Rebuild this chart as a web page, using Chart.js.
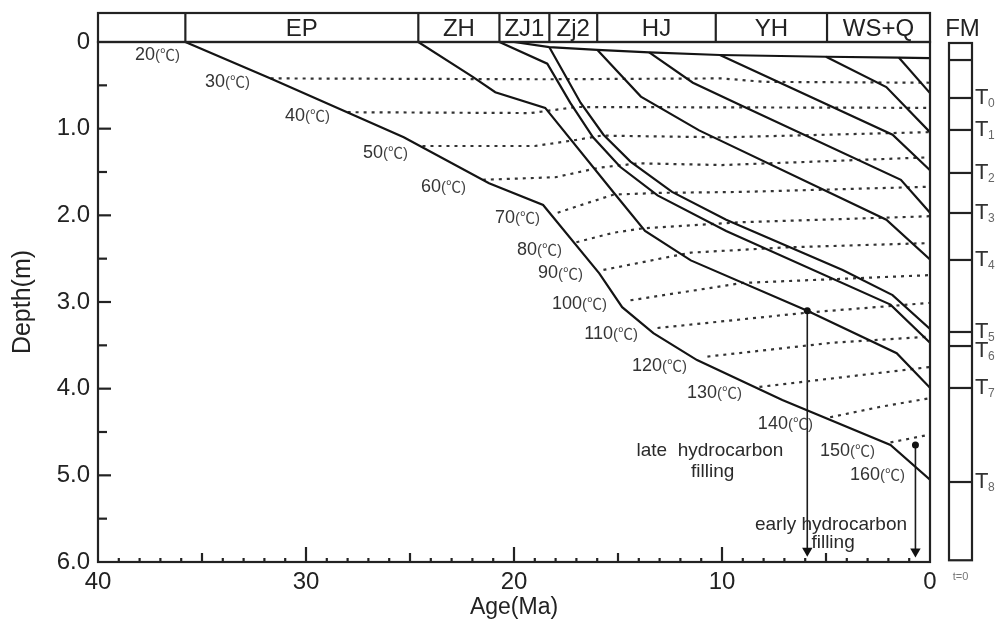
<!DOCTYPE html>
<html><head><meta charset="utf-8">
<script src="https://cdn.jsdelivr.net/npm/chart.js@4.4.0/dist/chart.umd.min.js"></script>
<style>html,body{margin:0;padding:0;background:#fff;overflow:hidden}canvas{display:block}</style>
</head><body>
<canvas id="c" width="997" height="631"></canvas>
<script>
// ---- top band: formations (ages in Ma) ----
const formationNames  = ['', 'EP', 'ZH', 'ZJ1', 'Zj2', 'HJ', 'YH', 'WS+Q'];
const formationBounds = [40, 35.8, 24.6, 20.7, 18.3, 16.0, 10.3, 4.95, 0];
// ---- FM column markers (depth, km) ----
const markerNames  = ['T0','T1','T2','T3','T4','T5','T6','T7','T8'];
const markerDepths = [0.646, 1.015, 1.511, 1.973, 2.515, 3.346, 3.508, 3.992, 5.077];
const fmTopLine = 0.208;
// ---- burial curves [age Ma, depth km] ----
const burialEP  = [[35.8,0],[31.7,0.42],[25.3,1.10],[21.2,1.63],[18.6,1.88],[15.9,2.67],[14.8,3.06],[13.3,3.36],[11.2,3.67],[7.1,4.13],[1.9,4.65],[0,5.05]];
const burialZH  = [[24.6,0],[22.0,0.40],[20.9,0.58],[18.5,0.76],[15.2,1.74],[13.7,2.18],[11.5,2.52],[5.9,3.10],[1.6,3.59],[0,3.99]];
const burialZJ1 = [[20.7,0],[18.4,0.25],[17.3,0.70],[16.2,1.10],[14.9,1.44],[13.1,1.77],[9.8,2.18],[1.9,3.03],[0,3.47]];
const burialZj2 = [[18.3,0.06],[16.8,0.70],[15.7,1.07],[14.4,1.38],[12.4,1.73],[9.8,2.05],[4.2,2.63],[1.8,2.92],[0,3.31]];
const burialHJ  = [[16.0,0.09],[13.9,0.63],[11.1,1.02],[2.1,2.05],[0,2.51]];
const burialHJ2 = [[13.5,0.12],[11.4,0.47],[9.1,0.73],[1.4,1.59],[0,1.97]];
const burialYH  = [[10.1,0.15],[1.8,1.07],[0,1.48]];
const burialWS  = [[5.0,0.17],[2.1,0.52],[0,1.04]];
const burialQ   = [[1.5,0.18],[0,0.59]];
const surfaceLine = [[20.0,0],[18.3,0.06],[16.0,0.09],[13.5,0.12],[10.1,0.15],[5.0,0.17],[1.5,0.18],[0,0.185]];
// ---- isotherms [age, depth] ----
const iso30  = [[31.7,0.42],[18.5,0.43],[10,0.42],[8,0.46],[0,0.47]];
const iso40  = [[28.0,0.81],[19.2,0.82],[17.0,0.75],[0,0.76]];
const iso50  = [[24.4,1.20],[19.0,1.20],[17.0,1.13],[15.8,1.08],[10,1.10],[0,1.04]];
const iso60  = [[21.5,1.59],[18.0,1.56],[15.9,1.45],[14,1.40],[10,1.42],[0,1.33]];
const iso70  = [[17.9,1.97],[16.5,1.86],[15.2,1.76],[12.8,1.74],[9.1,1.73],[0,1.67]];
const iso80  = [[17.0,2.31],[15.2,2.20],[13.8,2.15],[9.1,2.08],[0,2.01]];
const iso90  = [[15.7,2.63],[11.5,2.43],[6.9,2.37],[0,2.32]];
const iso100 = [[14.4,2.98],[9.0,2.78],[0,2.69]];
const iso110 = [[13.1,3.30],[5.8,3.12],[0,3.01]];
const iso120 = [[10.7,3.63],[4.7,3.47],[0,3.40]];
const iso130 = [[8.2,3.98],[0,3.75]];
const iso140 = [[4.8,4.33],[2.4,4.21],[0,4.11]];
const iso150 = [[1.9,4.62],[0,4.53]];
// ---- temperature labels (value, right-edge anchor [age, depth]) ----
const tempValues = [20,30,40,50,60,70,80,90,100,110,120,130,140,150,160];
const tempAnchors = [[36.06,0.15],[32.69,0.46],[28.85,0.85],[25.1,1.28],[22.31,1.67],[18.75,2.03],[17.69,2.40],[16.68,2.67],[15.53,3.02],[14.04,3.37],[11.68,3.74],[9.04,4.05],[5.63,4.41],[2.64,4.72],[1.2,5.0]];
// ---- hydrocarbon filling arrows ----
const lateFilling  = [[5.9,3.10],[5.9,5.87]];
const earlyFilling = [[0.7,4.65],[0.7,5.88]];
const lateText  = {lines:['late  hydrocarbon','filling'], at:[[10.58,4.72],[10.45,4.96]]};
const earlyText = {lines:['early hydrocarbon','filling'], at:[[4.76,5.57],[4.66,5.78]]};

const FONT = "'Liberation Sans', Arial, 'Noto Sans CJK SC', sans-serif";
const pts = a => a.map(p => ({x:p[0], y:p[1]}));
const solid = d => ({data: pts(d), showLine:true, borderColor:'#141414', borderWidth:2.2, pointRadius:0, tension:0, fill:false});
const dotted = d => ({data: pts(d), showLine:true, borderColor:'#333', borderWidth:2.2, borderDash:[3,5], pointRadius:0, tension:0, fill:false});
const arrow = d => ({data: pts(d), showLine:true, borderColor:'#1c1c1c', borderWidth:1.6, tension:0,
  pointStyle:['circle','triangle'], pointRadius:[3.5,6], pointRotation:[0,180],
  pointBackgroundColor:'#111', pointBorderColor:'#111', pointBorderWidth:0});

const decor = {
  id:'decor',
  afterDatasetsDraw(chart){
    const {ctx, chartArea:a, scales:{x,y}} = chart;
    ctx.save();
    ctx.strokeStyle = '#222'; ctx.lineWidth = 2.2; ctx.lineCap = 'butt';
    const seg = (x1,y1,x2,y2) => {ctx.beginPath(); ctx.moveTo(x1,y1); ctx.lineTo(x2,y2); ctx.stroke();};
    // frame
    ctx.strokeRect(a.left, a.top, a.right-a.left, a.bottom-a.top);
    // ticks on axes (inward)
    for (let v=0.5; v<6; v+=0.5){ const py=y.getPixelForValue(v); seg(a.left,py,a.left+(Number.isInteger(v)?13:9),py); }
    for (let v=1; v<40; v++){ const px=x.getPixelForValue(v); const L = v%10===0?15:(v%5===0?9:4); seg(px,a.bottom,px,a.bottom-L); }
    // top band
    const bandTop = a.top-29;
    ctx.strokeRect(a.left, bandTop, a.right-a.left, a.top-bandTop);
    ctx.fillStyle='#222'; ctx.font = '24px '+FONT; ctx.textAlign='center'; ctx.textBaseline='middle';
    for (let i=0;i<formationNames.length;i++){
      const l=x.getPixelForValue(formationBounds[i]), r=x.getPixelForValue(formationBounds[i+1]);
      if (i>0) seg(l,bandTop,l,a.top);
      if (formationNames[i]) ctx.fillText(formationNames[i], (l+r)/2, (bandTop+a.top)/2+2);
    }
    // FM column
    const fl=a.right+19, fr=a.right+42;
    ctx.strokeRect(fl, a.top+1, fr-fl, y.getPixelForValue(5.98)-a.top-1);
    seg(fl,y.getPixelForValue(fmTopLine),fr,y.getPixelForValue(fmTopLine));
    ctx.fillText('FM', (fl+fr)/2+2, (bandTop+a.top)/2+2);
    let prev=-100;
    markerDepths.forEach((d,i)=>{
      const py=y.getPixelForValue(d); seg(fl,py,fr,py);
      let ty = py; if (py-prev<20) ty += 5; prev=py;
      ctx.textAlign='left'; ctx.fillStyle='#333'; ctx.font='22px '+FONT; ctx.fillText('T', fr+3, ty);
      ctx.fillStyle='#666'; ctx.font='12px '+FONT; ctx.fillText(markerNames[i].slice(1), fr+16, ty+6);
    });
    ctx.fillStyle='#777'; ctx.font='11px '+FONT; ctx.textAlign='center';
    ctx.fillText('t=0', (fl+fr)/2, a.bottom+15);
    // temperature labels
    ctx.textBaseline='middle'; ctx.textAlign='right';
    tempValues.forEach((t,i)=>{
      const px=x.getPixelForValue(tempAnchors[i][0]), py=y.getPixelForValue(tempAnchors[i][1]);
      ctx.font='15px '+FONT; ctx.fillStyle='#444';
      const uw = ctx.measureText('(℃)').width;
      ctx.fillText('(℃)', px, py+1);
      ctx.font='18px '+FONT; ctx.fillStyle='#333';
      ctx.fillText(String(t), px-uw, py);
    });
    // filling texts
    ctx.textAlign='center'; ctx.fillStyle='#2a2a2a'; ctx.font='19px '+FONT;
    [lateText, earlyText].forEach(tx => tx.lines.forEach((s,i)=>{
      ctx.fillText(s, x.getPixelForValue(tx.at[i][0]), y.getPixelForValue(tx.at[i][1]));
    }));
    ctx.restore();
  }
};

new Chart(document.getElementById('c'), {
  type:'scatter',
  data:{datasets:[
    solid(burialEP), solid(burialZH), solid(burialZJ1), solid(burialZj2), solid(burialHJ),
    solid(burialHJ2), solid(burialYH), solid(burialWS), solid(burialQ), solid(surfaceLine),
    dotted(iso30), dotted(iso40), dotted(iso50), dotted(iso60), dotted(iso70), dotted(iso80),
    dotted(iso90), dotted(iso100), dotted(iso110), dotted(iso120), dotted(iso130), dotted(iso140), dotted(iso150),
    arrow(lateFilling), arrow(earlyFilling)
  ]},
  options:{
    responsive:false, animation:false, devicePixelRatio:1,
    layout:{padding:{top:42, right:67, left:0, bottom:0}},
    plugins:{legend:{display:false}, tooltip:{enabled:false}},
    scales:{
      x:{type:'linear', min:0, max:40, reverse:true,
        afterFit: s => { s.height = 69; },
        grid:{display:false, drawTicks:false}, border:{display:false},
        ticks:{stepSize:10, autoSkip:false, padding:6, color:'#222', font:{family:FONT, size:24}, maxRotation:0},
        title:{display:true, text:'Age(Ma)', color:'#222', font:{family:FONT, size:23}, padding:{top:0,bottom:10}}},
      y:{type:'linear', min:0, max:6, reverse:true,
        afterFit: s => { s.width = 98; },
        grid:{display:false, drawTicks:false}, border:{display:false},
        ticks:{stepSize:1, autoSkip:false, padding:8, color:'#222', font:{family:FONT, size:24},
          callback: v => v===0 ? '0' : v.toFixed(1)},
        title:{display:true, text:'Depth(m)', color:'#222', font:{family:FONT, size:25}, padding:{top:8,bottom:0}}}
    }
  },
  plugins:[decor]
});
</script>
</body></html>
